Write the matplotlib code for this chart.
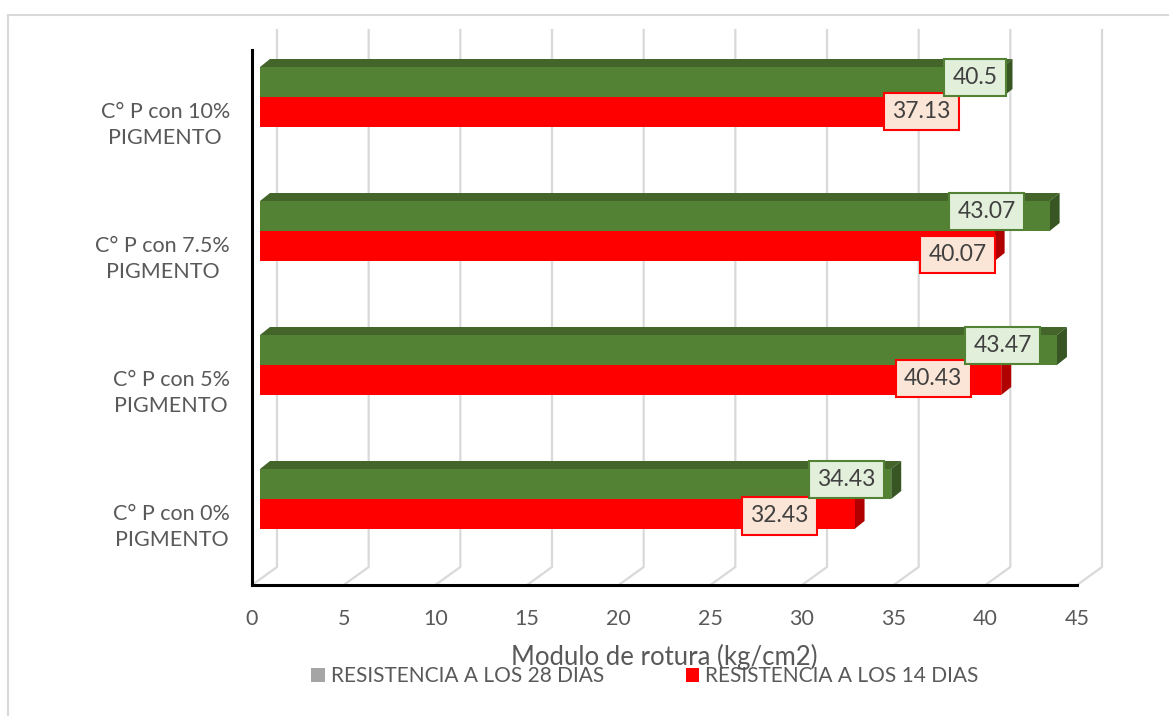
import matplotlib.pyplot as plt
from matplotlib.patches import Polygon, Patch, Rectangle

plt.rcParams['font.family'] = ['Lato', 'DejaVu Sans']

categories = ['C° P con 0%\nPIGMENTO', 'C° P con 5%\nPIGMENTO',
              'C° P con 7.5%\nPIGMENTO', 'C° P con 10%\nPIGMENTO']
res_28 = [34.43, 43.47, 43.07, 40.5]
res_14 = [32.43, 40.43, 40.07, 37.13]
xticks = list(range(0, 50, 5))

# where each data label sits, pulled back from the bar end (x) and off the bar (y)
lbl_back_28 = [2.44, 2.95, 3.44, 1.5]
lbl_back_14 = [4.09, 3.71, 2.02, 1.07]
lbl_dy_14 = [-0.125, -0.10, -0.175, -0.11]

W, H = 1169, 716
PX = 45 / 825      # data x per pixel
PY = 1 / 134       # data y per pixel (one category per 134 px)

fig = plt.figure(figsize=(W / 100, H / 100), dpi=100)
ax = fig.add_axes([252 / W, 1 - 585 / H, 825 / W, 555 / H])
ax.set_xlim(0, 45)
ytop = 555 * PY
ax.set_ylim(0, ytop)

# back wall / floor gridlines of the 3D box
wall_dx, wall_dy = 25 * PX, 18 * PY
for k in xticks:
    ax.plot([k, k + wall_dx, k + wall_dx], [0, wall_dy, ytop],
            color='#D9D9D9', lw=1.6, clip_on=False, zorder=1)

# bars
x0 = 8 * PX
bh = 30 * PY
bdx, bdy = 10 * PX, 8 * PY
base = [i + 86 * PY for i in range(len(categories))]

def faces(y_bot, y_top, v, top_c, side_c, draw_top=True):
    xe = x0 + v
    if draw_top:
        ax.add_patch(Polygon([(x0, y_top), (x0 + bdx, y_top + bdy),
                              (xe + bdx, y_top + bdy), (xe, y_top)],
                             closed=True, fc=top_c, ec='none', zorder=3))
    ax.add_patch(Polygon([(xe, y_bot), (xe + bdx, y_bot + bdy),
                          (xe + bdx, y_top + bdy), (xe, y_top)],
                         closed=True, fc=side_c, ec='none', zorder=3, clip_on=False))

for b, v in zip(base, res_14):
    faces(b - bh, b, v, '#B00000', '#B00000', draw_top=False)
ax.barh([b - bh / 2 for b in base], res_14, height=bh, left=x0,
        color='#FF0000', zorder=4)
for b, v in zip(base, res_28):
    faces(b, b + bh, v, '#43652A', '#375623')
ax.barh([b + bh / 2 for b in base], res_28, height=bh, left=x0,
        color='#548235', zorder=5)

# data labels
lbl_fs = 16.5
box = 'square,pad=0.36'
for b, v, s in zip(base, res_28, lbl_back_28):
    ax.text(x0 + v - s, b + 19.5 * PY, f'{v:g}', ha='center', va='center',
            fontsize=lbl_fs, color='#404040', zorder=7,
            bbox=dict(boxstyle=box, fc='#E2EFDA', ec='#548235', lw=1.5))
for b, v, s, d in zip(base, res_14, lbl_back_14, lbl_dy_14):
    ax.text(x0 + v - s, b + d, f'{v:g}', ha='center', va='center',
            fontsize=lbl_fs, color='#404040', zorder=6,
            bbox=dict(boxstyle=box, fc='#FBE5D6', ec='#FF0000', lw=1.5))

# axes
for s in ['top', 'right']:
    ax.spines[s].set_visible(False)
ax.spines['left'].set_bounds(0, 535 * PY)
ax.spines['left'].set_linewidth(2.2)
ax.spines['bottom'].set_linewidth(2.2)
ax.set_xticks(xticks)
ax.set_xticklabels([str(t) for t in xticks])
ax.set_yticks([i + 0.47 for i in range(len(categories))])
ax.set_yticklabels(categories)
for t in ax.get_yticklabels():
    t.set_multialignment('center')
    t.set_linespacing(1.35)
ax.tick_params(axis='x', length=0, pad=17, labelsize=15.5, labelcolor='#595959')
ax.tick_params(axis='y', length=0, pad=16, labelsize=15.5, labelcolor='#595959')
ax.set_facecolor('none')

fig.text(664 / W, 1 - 657 / H, 'Modulo de rotura (kg/cm2)', ha='center', va='center',
         fontsize=18.5, color='#595959')

fig.legend(handles=[Patch(fc='#A5A5A5'), Patch(fc='#FF0000')],
           labels=['RESISTENCIA A LOS 28 DIAS', 'RESISTENCIA A LOS 14 DIAS'],
           loc='center', bbox_to_anchor=(645 / W, 1 - 676 / H), ncol=2, frameon=False,
           fontsize=15, labelcolor='#595959', handlelength=0.65, handleheight=0.65,
           handletextpad=0.3, columnspacing=3.9, borderpad=0, borderaxespad=0)

# chart area border
fig.add_artist(Rectangle((8 / W, -0.1), 2, 1 - 15 / H + 0.1, transform=fig.transFigure,
                         fill=False, ec='#D9D9D9', lw=1.5))

fig.savefig('out.png', dpi=100)
